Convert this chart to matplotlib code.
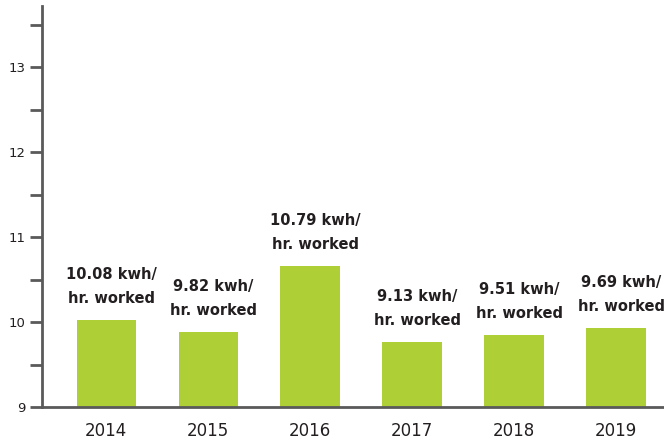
import numpy as np
import matplotlib
matplotlib.use("Agg")
import matplotlib.pyplot as plt
from matplotlib.ticker import MultipleLocator

years = ["2014", "2015", "2016", "2017", "2018", "2019"]
# bar heights as drawn in the chart
bar_heights = [10.03, 9.88, 10.66, 9.77, 9.85, 9.93]
# values printed above each bar
value_labels = ["10.08", "9.82", "10.79", "9.13", "9.51", "9.69"]

bar_color = "#afcf36"
axis_color = "#5a5a5a"
text_color = "#231f20"

fig = plt.figure(figsize=(6.64, 4.42), dpi=100)
ax = fig.add_axes([0.063, 0.079, 0.937, 0.907])

x = np.arange(len(years))
base = 9
ax.bar(x, np.array(bar_heights) - base, bottom=base, width=0.58,
       color=bar_color, zorder=1)

for xi, h, v in zip(x, bar_heights, value_labels):
    ax.annotate(v + " kwh/\nhr. worked", (xi, h), xytext=(4, 10),
                textcoords="offset points", ha="center", va="bottom",
                fontsize=10.5, fontweight="bold", color=text_color,
                linespacing=1.75)

ax.set_xlim(-0.63, 5.47)
ax.set_ylim(9, 13.72)
ax.yaxis.set_major_locator(MultipleLocator(1))
ax.yaxis.set_minor_locator(MultipleLocator(0.5))
ax.set_xticks(x)
ax.set_xticklabels(years, fontsize=12, color=text_color)
ax.tick_params(axis="x", length=0, pad=11)
ax.tick_params(axis="y", which="both", length=9, width=2, color=axis_color,
               labelsize=9.5, labelcolor=text_color, pad=3)

for side in ["top", "right"]:
    ax.spines[side].set_visible(False)
for side in ["left", "bottom"]:
    ax.spines[side].set_color(axis_color)
    ax.spines[side].set_linewidth(2)
    ax.spines[side].set_zorder(3)

fig.savefig("out.png", dpi=100)
